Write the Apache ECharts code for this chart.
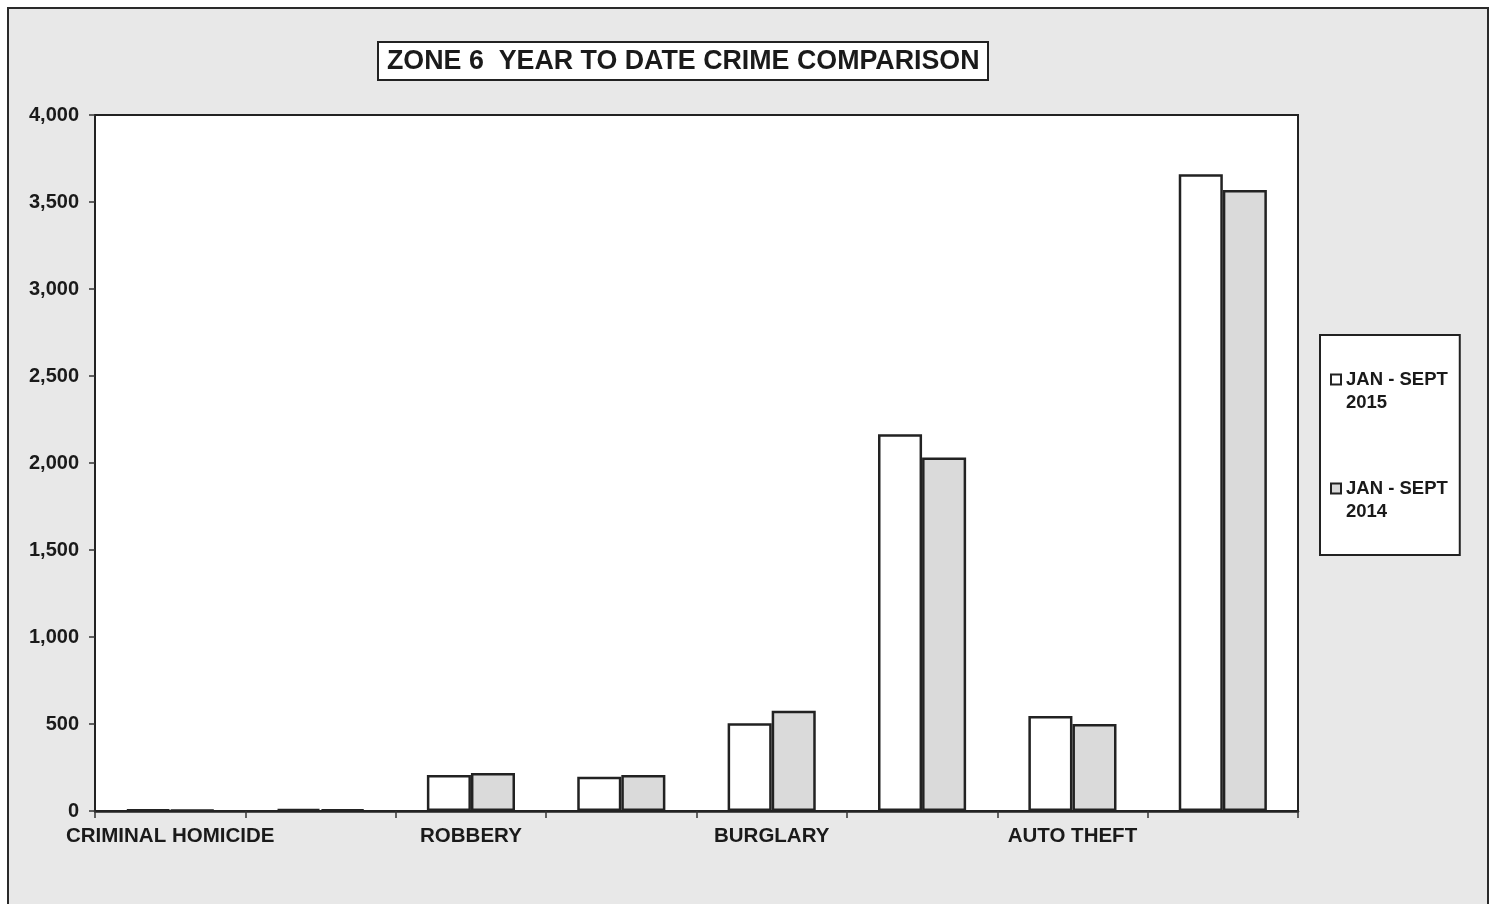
<!DOCTYPE html>
<html>
<head>
<meta charset="utf-8">
<script src="https://cdn.jsdelivr.net/npm/echarts@6/dist/echarts.min.js"></script>
<style>
html,body{margin:0;padding:0;background:#fff;}
#chart{width:1497px;height:904px;}
</style>
</head>
<body>
<div id="chart"></div>
<script>
const categories = ['CRIMINAL HOMICIDE', 'RAPE', 'ROBBERY', 'AGG. ASSAULT', 'BURGLARY', 'LARCENY', 'AUTO THEFT', 'TOTAL'];
const seriesNames = ['JAN - SEPT 2015', 'JAN - SEPT 2014'];
const values2015 = [8, 12, 207, 197, 504, 2165, 546, 3659];
const values2014 = [5, 10, 218, 207, 576, 2031, 500, 3569];
const yTicks = { min: 0, max: 4000, interval: 500 };
const titleText = 'ZONE 6  YEAR TO DATE CRIME COMPARISON';

const FONT = '"Liberation Sans", Arial, sans-serif';
const chart = echarts.init(document.getElementById('chart'), null, { renderer: 'canvas' });

chart.setOption({
  backgroundColor: '#ffffff',
  animation: false,
  graphic: [{
    type: 'rect',
    z: -100,
    shape: { x: 8, y: 8, width: 1480, height: 920 },
    style: { fill: '#e8e8e8', stroke: '#2a2a2a', lineWidth: 2 }
  }],
  title: {
    text: titleText,
    left: 378,
    top: 42,
    padding: [6, 9, 5, 9],
    backgroundColor: '#ffffff',
    borderColor: '#222',
    borderWidth: 2,
    textStyle: { fontFamily: FONT, fontSize: 26.8, fontWeight: 'bold', color: '#1a1a1a' }
  },
  legend: {
    orient: 'vertical',
    left: 1320,
    top: 335,
    padding: [10, 12, 32, 10],
    itemGap: 40,
    itemWidth: 10,
    itemHeight: 10,
    backgroundColor: '#ffffff',
    borderColor: '#222',
    borderWidth: 2,
    icon: 'rect',
    formatter: function (name) {
      const parts = name.split(' ');
      const year = parts.pop();
      return '\n' + parts.join(' ') + '\n' + year;
    },
    textStyle: { fontFamily: FONT, fontSize: 18.5, fontWeight: 'bold', color: '#1a1a1a', lineHeight: 23 },
    data: seriesNames
  },
  grid: {
    left: 95,
    top: 115,
    width: 1203,
    height: 696,
    show: true,
    backgroundColor: '#ffffff',
    borderColor: '#222',
    borderWidth: 2
  },
  xAxis: {
    type: 'category',
    data: categories,
    axisLine: { show: true, lineStyle: { color: '#222', width: 2.5 } },
    axisTick: { show: true, interval: 0, length: 7, lineStyle: { color: '#333', width: 1.5 } },
    axisLabel: {
      interval: 1,
      margin: 15,
      fontFamily: FONT,
      fontSize: 20.5,
      fontWeight: 'bold',
      color: '#1a1a1a'
    },
    splitLine: { show: false }
  },
  yAxis: {
    type: 'value',
    min: yTicks.min,
    max: yTicks.max,
    interval: yTicks.interval,
    axisLine: { show: false },
    axisTick: { show: true, length: 6, lineStyle: { color: '#333', width: 1.5 } },
    axisLabel: {
      margin: 16,
      fontFamily: FONT,
      fontSize: 20,
      fontWeight: 'bold',
      color: '#1a1a1a',
      formatter: function (v) { return v.toLocaleString('en-US'); }
    },
    splitLine: { show: false }
  },
  series: [
    {
      name: seriesNames[0],
      type: 'bar',
      data: values2015,
      barWidth: '29.3%',
      barGap: '0%',
      itemStyle: { color: '#ffffff', borderColor: '#222', borderWidth: 2.5 }
    },
    {
      name: seriesNames[1],
      type: 'bar',
      data: values2014,
      barWidth: '29.3%',
      barGap: '0%',
      itemStyle: { color: '#dadada', borderColor: '#222', borderWidth: 2.5 }
    }
  ]
});
</script>
</body>
</html>
